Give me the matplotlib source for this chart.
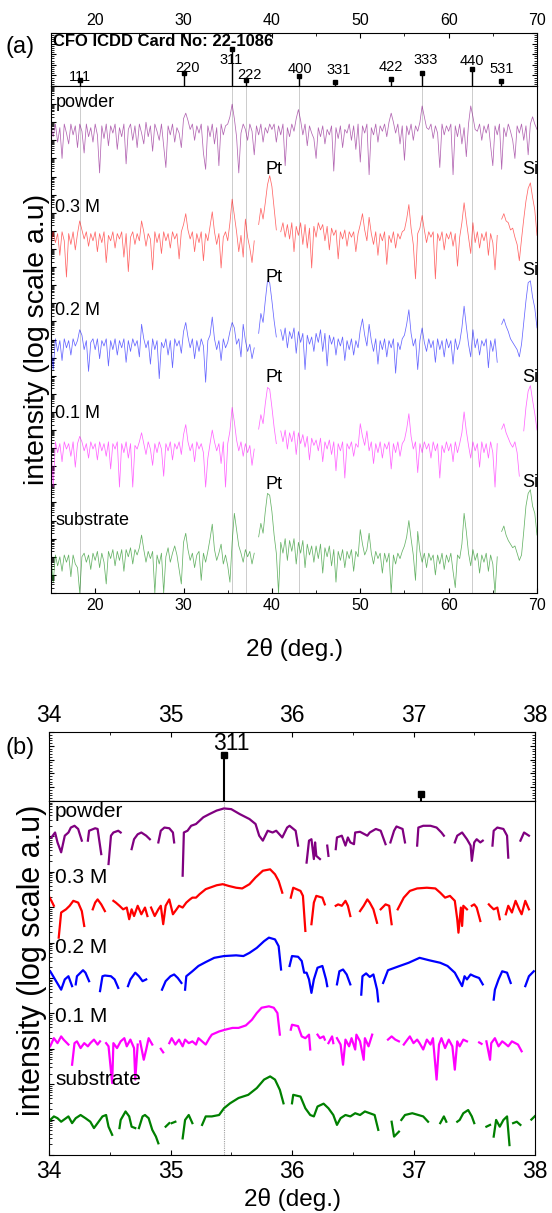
import numpy as np
import matplotlib.pyplot as plt
from matplotlib.ticker import MultipleLocator, LogLocator, NullFormatter

plt.rcParams['font.family'] = ['Liberation Sans', 'DejaVu Sans']
plt.rcParams['axes.linewidth'] = 0.8

nan = np.nan

samples = ['powder', '0.3 M', '0.2 M', '0.1 M', 'substrate']
colors = ['#800080', '#ff0000', '#0000ff', '#ff00ff', '#008000']

# CFO ICDD card 22-1086
card_hkl = ['111', '220', '311', '222', '400', '331', '422', '333', '440', '531']
card_pos = [18.29, 30.08, 35.44, 37.06, 43.06, 47.11, 53.45, 56.97, 62.59, 65.97]
card_int = [16, 35, 100, 16, 27, 11, 19, 35, 46, 14]

# (a) wide scan: log10 counts every 0.25 deg, 15..70 deg
tt_a = np.arange(15.0, 70.001, 0.25)

powder_a = [
    2.8, 2.2, 2.9, 1.9, 2.7, 1.0, 2.9, 2.4, 1.8, 2.9, 2.3, 2.8, 1.6, 2.9, 2.5, 1.3, 2.9, 2.2, 2.7, 1.9,
    2.9, 2.3, 0.2, 2.8, 2.1, 2.9, 1.7, 2.8, 2.4, 2.9, 1.5, 2.7, 2.2, 2.9, 0.7, 2.6, 2.9, 2.0, 2.8, 1.6,
    2.9, 2.4, 1.8, 3.0, 2.2, 2.8, 1.4, 2.9, 2.5, 2.0, 2.9, 1.7, 0.5, 2.8, 2.3, 2.9, 1.9, 2.7, 2.4, 1.6,
    3.2, 3.5, 3.1, 2.6, 2.9, 2.0, 2.8, 2.4, 2.9, 1.3, 0.4, 2.8, 2.2, 2.9, 1.8, 2.7, 0.6, 2.9, 2.3, 2.8,
    2.9, 3.3, 4.0, 3.2, 2.2, 0.2, 2.4, 2.9, 2.6, 2.0, 2.9, 2.5, 1.2, 2.8, 2.3, 2.9, 1.9, 2.7, 2.4, 2.9,
    2.6, 2.9, 1.9, 2.8, 2.3, 2.9, 0.6, 2.7, 2.2, 2.9, 2.5, 3.2, 3.7, 3.1, 2.3, 2.9, 1.7, 2.8, 2.4, 2.1,
    1.0, 2.7, 2.2, 2.8, 1.8, 2.6, 2.3, 2.8, 0.3, 2.7, 2.1, 2.8, 1.6, 2.6, 2.4, 2.9, 2.0, 2.8, 1.5, 2.9,
    0.8, 2.8, 2.4, 2.9, 0.1, 2.7, 2.3, 2.9, 1.9, 2.8, 2.5, 2.9, 2.2, 3.0, 3.5, 3.0, 2.4, 2.9, 1.8, 2.8,
    0.9, 2.8, 2.3, 2.9, 2.0, 2.8, 2.5, 3.0, 3.9, 3.3, 2.7, 2.6, 2.9, 2.1, 2.8, 2.4, 0.5, 2.9, 2.3, 2.8,
    2.5, 2.9, 0.1, 2.8, 2.2, 2.9, 1.8, 2.7, 1.1, 2.9, 3.9, 3.3, 2.6, 2.5, 2.9, 2.0, 2.8, 2.4, 2.9, 1.7,
    0.6, 2.8, 2.3, 2.9, 0.4, 2.7, 2.2, 2.9, 2.5, 2.0, 1.0, 2.8, 2.4, 2.9, 2.0, 2.8, 1.2, 2.9, 3.3, 2.9,
    2.6]

m03_a = [
    2.1, 2.9, 2.3, 2.8, 1.6, 2.9, 2.4, 0.4, 2.8, 2.2, 2.9, 1.9, 2.8, 3.5, 3.0, 2.5, 2.9, 2.1, 2.8, 2.4,
    2.9, 1.8, 2.8, 2.3, 2.9, 1.2, 2.7, 2.4, 2.9, 2.0, 2.8, 2.5, 2.9, 1.5, 2.8, 0.7, 2.6, 2.9, 2.2, 2.8,
    2.4, 3.5, 2.9, 2.1, 2.8, 2.5, 0.8, 2.9, 2.3, 2.8, 1.7, 2.9, 2.4, 2.8, 2.0, 2.9, 2.5, 2.8, 1.4, 2.9,
    3.3, 3.9, 3.0, 2.5, 2.9, 1.8, 2.8, 2.3, 2.9, 1.3, 2.8, 2.4, 3.2, 4.0, 2.9, 2.2, 2.8, 0.9, 2.6, 2.9,
    2.4, 3.4, 4.7, 3.8, 2.9, 1.8, 2.7, 1.5, 3.6, 2.6, 2.0, 1.2, 2.4, nan, 3.3, 4.2, 3.6, 4.5, 5.5, 6.0,
    5.4, 4.2, 3.0, nan, 2.9, 3.4, 2.6, 3.3, 2.5, 3.4, 1.8, 3.2, 2.7, 3.4, 2.2, 3.3, 2.0, 3.1, 0.9, 3.2,
    2.6, 3.4, 3.0, 3.3, 2.4, 3.2, 1.9, 3.1, 2.7, 3.0, 1.4, 2.9, 2.5, 3.0, 2.1, 2.9, 2.6, 2.9, 1.8, 2.8,
    3.3, 3.9, 3.0, 2.4, 3.7, 2.8, 2.2, 2.9, 1.6, 2.8, 2.4, 2.9, 1.1, 2.7, 2.3, 2.9, 2.0, 2.8, 2.5, 2.9,
    3.0, 3.6, 4.4, 3.1, 2.2, 0.3, 2.8, 3.1, 3.8, 3.0, 2.3, 2.9, 2.6, 2.9, 0.3, 2.8, 2.4, 2.9, 1.9, 2.8,
    2.5, 2.9, 2.1, 2.8, 1.0, 2.6, 3.4, 4.5, 3.5, 2.6, 1.7, 3.4, 2.3, 2.9, 2.0, 2.8, 2.4, 2.9, 1.6, 2.8,
    2.3, 0.8, 2.7, nan, 3.6, 3.9, 3.5, 3.4, 3.0, 3.1, 2.6, 2.2, 1.3, 2.5, 3.6, 4.6, 5.3, 5.6, 4.8, 4.1,
    2.7]

m02_a = [
    2.6, 1.2, 2.9, 2.2, 2.8, 1.7, 2.9, 2.4, 2.8, 2.0, 2.9, 2.5, 2.8, 3.4, 3.1, 2.3, 2.8, 1.1, 2.7, 2.9,
    2.3, 2.9, 1.8, 2.8, 2.5, 2.9, 1.4, 2.8, 2.3, 2.9, 2.0, 2.8, 2.4, 2.9, 1.6, 2.8, 2.2, 2.9, 2.5, 2.8,
    1.9, 3.7, 2.9, 2.4, 2.8, 1.5, 2.9, 2.3, 2.8, 0.7, 2.7, 2.4, 2.9, 2.0, 2.8, 1.3, 2.9, 2.5, 2.8, 2.1,
    3.3, 3.8, 3.0, 2.4, 2.9, 1.8, 2.8, 2.2, 2.9, 2.5, 0.5, 2.8, 3.1, 4.1, 2.9, 2.3, 2.8, 1.7, 2.9, 2.4,
    2.7, 3.3, 3.8, 3.5, 2.6, 2.9, 1.9, 3.7, 2.8, 2.2, 2.6, 1.8, 2.4, nan, 3.2, 4.3, 3.8, 5.0, 6.1, 6.0,
    5.0, 3.9, 3.0, nan, 3.4, 2.8, 3.5, 2.4, 3.3, 2.9, 3.5, 2.1, 3.3, 2.7, 3.2, 1.2, 3.1, 2.6, 3.0, 2.2,
    3.2, 2.7, 3.4, 2.2, 3.2, 1.4, 3.1, 2.6, 3.0, 2.0, 2.9, 2.5, 3.0, 1.7, 2.8, 2.3, 2.9, 2.0, 2.8, 2.4,
    3.4, 4.0, 3.1, 2.5, 3.7, 2.8, 2.2, 2.9, 1.5, 2.8, 2.3, 2.9, 1.9, 2.8, 2.4, 2.9, 1.0, 2.7, 2.3, 2.9,
    3.1, 3.7, 4.5, 3.2, 2.5, 2.9, 1.2, 2.8, 3.5, 2.7, 2.2, 2.9, 2.4, 2.8, 1.6, 2.9, 2.3, 2.8, 1.9, 2.9,
    2.4, 2.8, 1.5, 2.9, 2.3, 2.7, 3.5, 4.7, 3.6, 2.6, 1.9, 3.4, 2.4, 2.9, 2.0, 2.8, 2.5, 2.9, 1.3, 2.8,
    2.2, 2.9, 1.6, nan, 3.7, 4.0, 3.6, 3.3, 2.9, 2.7, 2.5, 2.3, 1.9, 2.6, 3.8, 5.0, 6.0, 6.1, 5.2, 4.6,
    3.5]

m01_a = [
    2.7, 0.4, 2.9, 2.3, 2.8, 1.8, 2.9, 2.5, 2.8, 2.1, 2.9, 1.5, 2.8, 3.2, 2.9, 2.4, 2.8, 2.0, 2.9, 2.5,
    2.8, 1.9, 2.9, 2.4, 2.8, 2.1, 2.9, 1.4, 2.8, 2.5, 2.9, 0.4, 2.8, 2.3, 2.9, 2.0, 2.8, 0.4, 2.7, 2.5,
    2.9, 3.4, 2.8, 2.2, 2.9, 2.5, 1.6, 2.8, 2.3, 2.9, 2.5, 1.0, 2.8, 2.4, 2.9, 1.9, 2.8, 2.5, 2.9, 2.2,
    3.3, 3.85, 2.9, 2.4, 2.8, 1.8, 2.9, 2.5, 2.8, 2.3, 0.4, 2.0, 2.8, 3.55, 2.9, 2.4, 2.8, 1.7, 2.9, 0.4,
    2.8, 3.5, 4.8, 4.0, 3.0, 2.4, 2.9, 2.1, 2.8, 2.3, 2.7, 1.6, 2.5, nan, 3.6, 4.4, 3.9, 5.0, 5.9, 5.8,
    4.8, 3.7, 2.8, nan, 3.5, 2.9, 3.55, 2.5, 3.4, 2.9, 3.5, 2.2, 3.4, 2.8, 3.3, 2.6, 3.2, 1.9, 3.1, 2.7,
    3.0, 2.4, 3.1, 1.8, 2.9, 2.5, 3.0, 2.2, 2.9, 1.3, 2.8, 2.4, 2.9, 0.9, 2.8, 2.5, 2.9, 2.1, 2.8, 2.6,
    3.9, 3.2, 2.7, 3.5, 2.4, 2.9, 1.7, 2.8, 2.3, 2.9, 2.0, 2.8, 2.5, 2.9, 1.4, 2.8, 2.3, 2.9, 2.1, 2.8,
    3.0, 3.6, 4.45, 3.2, 2.5, 2.9, 1.2, 2.8, 2.3, 2.9, 2.5, 2.8, 2.0, 2.9, 2.4, 2.8, 0.9, 2.7, 2.3, 2.9,
    2.4, 2.8, 1.8, 2.9, 2.3, 2.8, 3.4, 4.55, 3.5, 2.7, 2.0, 2.9, 2.4, 2.8, 1.5, 2.9, 2.3, 2.8, 2.0, 2.9,
    2.3, 0.4, 2.8, nan, 3.6, 3.9, 3.4, 3.1, 2.8, 2.6, 2.9, 2.3, 1.0, nan, 3.5, 4.8, 5.7, 6.0, 5.2, 4.45,
    3.55]

substrate_a = [
    2.8, 1.4, 2.9, 2.3, 2.8, 2.0, 2.9, 2.5, 2.9, 1.7, 2.9, 2.4, 2.2, 0.8, 2.8, 3.0, 2.5, 2.9, 2.1, 3.0,
    2.6, 3.1, 2.2, 3.0, 2.5, 1.3, 3.1, 2.7, 3.2, 2.3, 3.1, 2.6, 3.2, 2.0, 3.2, 2.8, 3.3, 2.4, 3.2, 2.9,
    3.3, 4.0, 3.2, 2.5, 3.1, 2.7, 3.1, 0.8, 2.9, 2.4, 3.0, 0.8, 2.8, 3.3, 2.5, 3.0, 3.4, 2.9, 2.1, 1.3,
    3.6, 4.1, 3.2, 2.6, 3.0, 2.2, 2.9, 3.1, 1.5, 3.0, 2.5, 3.1, 3.8, 4.6, 3.2, 2.6, 3.0, 3.5, 2.4, 2.9,
    2.3, 1.4, 3.6, 5.2, 4.3, 3.4, 3.0, 2.5, 3.2, 2.8, 3.1, 2.4, 3.0, nan, 3.9, 4.65, 4.1, 5.3, 6.3, 6.2,
    5.3, 4.0, 3.0, 0.8, 3.6, 3.0, 3.8, 2.6, 3.7, 3.1, 3.8, 2.4, 3.6, 3.0, 3.7, 2.2, 3.5, 2.9, 3.4, 2.5,
    3.4, 2.7, 3.5, 1.9, 3.3, 2.8, 3.4, 2.3, 3.2, 1.4, 3.1, 2.6, 3.2, 2.2, 3.1, 2.7, 3.2, 2.0, 3.1, 2.8,
    4.3, 3.5, 2.9, 3.2, 4.1, 3.0, 2.4, 3.1, 2.7, 3.0, 1.9, 3.0, 2.5, 3.0, 0.8, 2.9, 2.4, 3.0, 2.7, 3.1,
    3.4, 3.9, 4.8, 3.8, 2.9, 1.5, 4.2, 3.1, 2.5, 3.0, 2.2, 3.0, 2.6, 2.9, 1.8, 2.9, 2.4, 3.0, 2.1, 2.9,
    2.5, 3.0, 2.0, 1.1, 2.9, 2.7, 3.5, 5.2, 4.2, 3.0, 2.3, 3.2, 2.6, 3.0, 1.9, 2.9, 2.5, 3.0, 2.0, 2.9,
    2.4, 0.8, 2.8, nan, 4.2, 4.5, 4.0, 3.7, 3.5, 3.3, 3.4, 3.0, 2.6, 2.9, 4.2, 5.6, 6.3, 6.5, 5.6, 5.2,
    4.0]

# (b) fine scan 34..38 deg: log10 counts, read off as separate segments (gaps = no data)
powder_b_tt = [
    [34.02, 34.05, 34.07, 34.10, 34.13, 34.16, 34.18, 34.21, 34.24, 34.27],
    [34.32, 34.33, 34.38, 34.40, 34.43],
    [34.49, 34.51, 34.53, 34.57, 34.59],
    [34.68, 34.70, 34.73, 34.76, 34.80, 34.83],
    [34.90, 34.92, 34.95, 34.99, 35.02, 35.03],
    [35.10, 35.11, 35.14, 35.17, 35.21, 35.27, 35.32, 35.38, 35.44, 35.50, 35.57, 35.65, 35.70,
     35.73, 35.76, 35.80, 35.84, 35.87, 35.92, 35.96, 35.98, 36.03, 36.05],
    [36.12, 36.14, 36.16, 36.18, 36.19, 36.20, 36.23],
    [36.29, 36.30],
    [36.36, 36.37, 36.41, 36.44, 36.46, 36.48, 36.51, 36.52, 36.56, 36.62, 36.64, 36.69, 36.73, 36.77],
    [36.81, 36.84, 36.86, 36.91, 36.93],
    [37.03, 37.04, 37.08, 37.14, 37.19, 37.23, 37.25],
    [37.34, 37.36, 37.40, 37.44, 37.47, 37.48, 37.50, 37.52, 37.55, 37.57],
    [37.65, 37.66, 37.69, 37.74, 37.77, 37.78],
    [37.88, 37.91, 37.95]]
powder_b_lg = [
    [1.97, 2.11, 1.83, 1.55, 2.02, 2.11, 2.25, 2.30, 2.21, 1.88],
    [1.88, 2.16, 2.23, 2.21, 1.50],
    [1.22, 2.02, 2.11, 2.16, 2.11],
    [1.64, 1.92, 2.06, 2.11, 2.02, 1.92],
    [1.83, 2.16, 2.25, 2.23, 2.11, 1.83],
    [0.89, 2.11, 2.16, 2.30, 2.35, 2.54, 2.63, 2.73, 2.79, 2.77, 2.63, 2.49, 2.35,
     2.02, 1.88, 2.16, 2.11, 2.16, 1.97, 2.25, 2.30, 2.16, 1.74],
    [1.26, 1.88, 1.92, 1.36, 1.83, 1.45, 1.36],
    [1.74, 1.45],
    [1.64, 1.97, 2.02, 1.74, 1.97, 1.83, 1.78, 2.11, 2.13, 2.02, 2.11, 2.21, 2.16, 1.78],
    [1.83, 2.16, 2.28, 2.21, 1.83],
    [1.74, 2.25, 2.30, 2.30, 2.25, 2.11, 2.02],
    [1.83, 2.02, 2.11, 1.92, 1.74, 1.31, 1.83, 1.92, 1.83, 1.88],
    [1.74, 2.16, 2.25, 2.21, 2.02, 1.40],
    [1.88, 2.11, 2.02]]

m03_b_tt = [
    [34.00, 34.02, 34.04],
    [34.08, 34.10, 34.14, 34.17, 34.20, 34.24, 34.27, 34.29],
    [34.36, 34.38, 34.40, 34.43, 34.46],
    [34.53, 34.55, 34.58, 34.61, 34.64, 34.66, 34.68, 34.70, 34.73, 34.76, 34.79, 34.81],
    [34.84, 34.87, 34.90, 34.92, 34.94, 34.96, 34.99, 35.02, 35.05, 35.07, 35.10, 35.13, 35.16,
     35.18, 35.21, 35.24, 35.29, 35.38, 35.43, 35.48, 35.54, 35.59, 35.65, 35.70, 35.76, 35.82,
     35.86, 35.89, 35.92],
    [35.99, 36.01, 36.07, 36.09, 36.11],
    [36.16, 36.18, 36.20, 36.25, 36.27],
    [36.36, 36.38, 36.41, 36.44, 36.46, 36.48],
    [36.56, 36.59, 36.62, 36.64, 36.67, 36.70],
    [36.73, 36.77, 36.80, 36.82],
    [36.87, 36.92, 36.97, 37.03, 37.11, 37.18, 37.22, 37.26, 37.30, 37.34, 37.36, 37.37, 37.39,
     37.40, 37.41, 37.44],
    [37.48, 37.50, 37.52, 37.55],
    [37.62, 37.63, 37.66, 37.69, 37.71],
    [37.76, 37.78, 37.81, 37.84, 37.87, 37.89, 37.92, 37.95]]
m03_b_lg = [
    [2.30, 2.18, 2.04],
    [1.14, 1.85, 1.94, 2.04, 2.18, 2.13, 1.89, 1.47],
    [1.94, 2.13, 2.22, 2.08, 1.89],
    [2.18, 2.13, 2.04, 1.94, 1.99, 1.66, 1.94, 1.75, 2.04, 1.80, 1.99, 1.75],
    [1.99, 1.75, 1.94, 2.04, 1.52, 2.04, 2.22, 1.80, 1.94, 2.04, 1.99, 2.13, 2.22,
     2.27, 2.27, 2.37, 2.51, 2.62, 2.65, 2.60, 2.55, 2.53, 2.65, 2.84, 3.03, 3.07,
     2.93, 2.74, 2.41],
    [2.27, 2.55, 2.46, 2.32, 1.33],
    [1.52, 2.13, 2.32, 2.27, 2.08],
    [2.04, 2.08, 2.04, 2.18, 2.04, 1.75],
    [1.89, 2.04, 2.22, 2.13, 1.94, 1.56],
    [1.94, 2.08, 2.04, 1.52],
    [1.94, 2.27, 2.46, 2.53, 2.55, 2.53, 2.41, 2.27, 2.32, 2.18, 1.66, 1.28, 1.99,
     1.47, 2.04, 1.94],
    [2.04, 2.08, 1.99, 1.61],
    [2.08, 2.04, 1.94, 1.99, 1.66],
    [1.80, 2.04, 1.85, 2.18, 1.94, 1.80, 2.18, 1.94]]

m02_b_tt = [
    [34.01, 34.10, 34.13, 34.16, 34.19],
    [34.22, 34.23, 34.28, 34.30, 34.33],
    [34.42, 34.44, 34.46, 34.51, 34.54, 34.57],
    [34.65, 34.67, 34.71, 34.74, 34.77, 34.80],
    [34.93, 34.96, 35.00, 35.03, 35.06, 35.09],
    [35.12, 35.13, 35.18, 35.23, 35.29, 35.36, 35.44, 35.54, 35.60, 35.65, 35.71, 35.77, 35.81,
     35.86, 35.89, 35.91],
    [35.98, 36.00, 36.05, 36.08, 36.10, 36.12, 36.14, 36.16, 36.18, 36.21, 36.25, 36.28, 36.29],
    [36.37, 36.39, 36.42, 36.45, 36.48],
    [36.57, 36.58, 36.61, 36.64, 36.67, 36.70, 36.71],
    [36.75, 36.79, 36.87, 36.96, 37.05, 37.13, 37.22, 37.28, 37.34, 37.37, 37.40, 37.42, 37.44,
     37.47, 37.50, 37.54, 37.57],
    [37.66, 37.67, 37.70, 37.73, 37.77, 37.80],
    [37.92, 37.95, 37.99]]
m02_b_lg = [
    [2.19, 1.67, 1.96, 2.05, 1.77],
    [1.82, 2.05, 2.22, 2.15, 1.91],
    [1.63, 2.05, 2.07, 2.05, 1.96, 1.72],
    [1.77, 1.96, 2.15, 2.05, 1.91, 1.96],
    [1.67, 1.91, 2.05, 2.10, 2.00, 1.86],
    [1.67, 2.05, 2.19, 2.34, 2.45, 2.57, 2.62, 2.64, 2.62, 2.71, 2.85, 3.04, 3.14,
     3.09, 2.90, 2.24],
    [2.34, 2.62, 2.60, 2.48, 2.15, 2.15, 1.96, 1.58, 1.96, 2.29, 2.34, 1.96, 1.77],
    [1.82, 2.19, 2.24, 2.10, 1.82],
    [1.53, 2.05, 2.13, 2.03, 2.10, 1.67, 1.34],
    [1.86, 2.22, 2.32, 2.43, 2.57, 2.50, 2.43, 2.34, 2.15, 1.96, 1.77, 2.05, 1.96,
     2.10, 2.05, 2.00, 1.82],
    [1.39, 1.67, 1.96, 2.19, 2.15, 1.86],
    [1.77, 2.05, 2.19]]

m01_b_tt = [
    [34.01, 34.04, 34.07, 34.10, 34.12, 34.16],
    [34.19, 34.21, 34.23, 34.26, 34.29, 34.32, 34.34, 34.37, 34.40, 34.42],
    [34.47, 34.49, 34.52, 34.53, 34.56, 34.59, 34.62, 34.64, 34.67, 34.70, 34.71, 34.73],
    [34.75, 34.78, 34.80, 34.82, 34.85],
    [34.92, 34.94],
    [34.99, 35.01, 35.04, 35.07, 35.10, 35.12, 35.15, 35.18, 35.21, 35.23, 35.26, 35.29, 35.32,
     35.34, 35.40, 35.45, 35.51, 35.56, 35.62, 35.67, 35.71, 35.75, 35.81, 35.85, 35.88, 35.90],
    [35.99, 36.00, 36.05, 36.08, 36.11, 36.14, 36.15],
    [36.21, 36.23, 36.26, 36.27],
    [36.30, 36.33, 36.34],
    [36.37, 36.40, 36.42, 36.44, 36.47, 36.49, 36.52, 36.53, 36.56, 36.59, 36.60, 36.63, 36.66],
    [36.79, 36.82, 36.85, 36.88],
    [36.92, 36.95, 36.97, 37.00, 37.03, 37.05, 37.08, 37.11, 37.14, 37.16, 37.19, 37.21, 37.23,
     37.26, 37.29, 37.32, 37.34, 37.36, 37.38, 37.41, 37.44],
    [37.54, 37.56],
    [37.60, 37.63, 37.64, 37.67, 37.70, 37.73, 37.75, 37.78, 37.81, 37.86, 37.89]]
m01_b_lg = [
    [2.07, 2.30, 2.16, 2.35, 2.26, 2.12],
    [1.55, 2.16, 2.21, 2.02, 2.16, 2.07, 2.16, 2.26, 2.12, 2.21],
    [2.16, 2.07, 1.03, 2.16, 2.02, 2.21, 2.30, 2.07, 2.26, 2.02, 1.13, 2.12],
    [2.21, 1.69, 1.98, 2.30, 2.12],
    [2.00, 1.90],
    [2.16, 2.30, 2.12, 2.26, 2.07, 2.26, 2.16, 2.21, 2.12, 2.30, 2.21, 2.12, 2.30,
     2.40, 2.49, 2.54, 2.59, 2.59, 2.66, 2.82, 3.01, 3.16, 3.20, 3.16, 3.01, 2.40],
    [2.54, 2.68, 2.64, 2.35, 2.30, 2.40, 1.98],
    [2.40, 2.30, 2.35, 2.26],
    [2.16, 2.35, 2.16],
    [2.30, 2.12, 1.55, 2.26, 2.07, 2.30, 1.98, 2.40, 2.21, 1.69, 2.30, 2.07, 2.40],
    [2.26, 2.35, 2.26, 2.21],
    [2.12, 2.26, 2.35, 2.16, 2.26, 2.16, 1.98, 2.26, 2.12, 2.30, 1.13, 2.12, 2.30,
     2.02, 2.26, 2.07, 1.41, 2.21, 2.07, 2.26, 2.21],
    [2.18, 2.14],
    [2.21, 1.69, 2.16, 2.30, 2.07, 2.21, 2.16, 2.07, 2.21, 2.12, 1.93]]

substrate_b_tt = [
    [34.01, 34.04, 34.07, 34.10, 34.12, 34.16, 34.19, 34.22, 34.26, 34.30, 34.34, 34.37, 34.40,
     34.44, 34.47, 34.49, 34.52],
    [34.58, 34.59, 34.63, 34.66, 34.68, 34.71],
    [34.74, 34.77, 34.79, 34.82, 34.85, 34.88, 34.90],
    [34.96, 34.99],
    [35.01, 35.04],
    [35.10, 35.12, 35.15, 35.18],
    [35.26, 35.29, 35.34, 35.40, 35.44, 35.49, 35.56, 35.64, 35.71, 35.77, 35.82, 35.86, 35.90, 35.93],
    [36.00, 36.01, 36.07, 36.11, 36.15, 36.18, 36.21, 36.26, 36.30, 36.34, 36.37, 36.40, 36.44,
     36.48, 36.52, 36.56, 36.60, 36.64, 36.68, 36.71],
    [36.82, 36.84, 36.88],
    [36.90, 36.93, 36.99, 37.04, 37.08, 37.12],
    [37.22, 37.25, 37.27],
    [37.36, 37.38, 37.41, 37.45, 37.48, 37.50],
    [37.60, 37.63],
    [37.66, 37.68, 37.71, 37.74, 37.77, 37.79],
    [37.82, 37.85, 37.88],
    [37.97, 38.00]]
substrate_b_lg = [
    [1.99, 2.09, 2.04, 1.94, 1.99, 2.09, 1.90, 2.04, 2.13, 2.04, 1.94, 1.76, 1.90,
     2.09, 2.13, 1.80, 1.57],
    [1.76, 1.99, 2.23, 2.09, 1.80, 1.76],
    [1.76, 2.09, 2.13, 2.04, 1.71, 1.52, 1.33],
    [1.80, 1.90],
    [1.90, 1.94],
    [1.47, 1.99, 2.13, 1.90],
    [1.85, 2.09, 2.09, 2.13, 2.32, 2.46, 2.61, 2.70, 2.89, 3.13, 3.22, 3.13, 2.84, 2.46],
    [2.46, 2.70, 2.65, 2.32, 2.13, 2.09, 2.37, 2.45, 2.32, 2.13, 1.85, 2.04, 2.13,
     2.09, 2.18, 2.13, 2.23, 2.18, 2.13, 1.71],
    [1.94, 1.52, 1.66],
    [1.99, 2.13, 2.18, 2.13, 2.09, 1.94],
    [1.90, 2.09, 1.94],
    [1.94, 1.99, 2.18, 2.27, 2.09, 1.90],
    [1.80, 1.85],
    [1.52, 1.99, 1.80, 1.99, 2.09, 1.28],
    [1.90, 1.94, 1.85],
    [2.00, 2.10]]

traces_a = [powder_a, m03_a, m02_a, m01_a, substrate_a]
traces_b = [(powder_b_tt, powder_b_lg), (m03_b_tt, m03_b_lg), (m02_b_tt, m02_b_lg),
            (m01_b_tt, m01_b_lg), (substrate_b_tt, substrate_b_lg)]

# vertical stacking (decades) of the curves
shift_a = [23.0, 17.05, 11.14, 5.45, -0.8]
shift_b = [7.0, 5.0, 3.0, 1.0, -1.0]

W, H = 552, 1213
fig = plt.figure(figsize=(W / 100, H / 100), dpi=100)


def box(x0, y0, x1, y1):
    return [x0 / W, 1 - y1 / H, (x1 - x0) / W, (y1 - y0) / H]


ax_ca = fig.add_axes(box(51, 33, 537, 86))
ax_a = fig.add_axes(box(51, 86, 537, 593))
ax_cb = fig.add_axes(box(49, 732, 535, 801))
ax_b = fig.add_axes(box(49, 801, 535, 1155))


def style_card(ax, x0, x1, top, major, minor, size):
    ax.set_xlim(x0, x1)
    ax.set_ylim(0, top)
    ax.xaxis.set_major_locator(MultipleLocator(major))
    ax.xaxis.set_minor_locator(MultipleLocator(minor))
    ax.yaxis.set_major_locator(MultipleLocator(top / 5))
    ax.yaxis.set_minor_locator(MultipleLocator(top / 25))
    ax.tick_params(axis='x', which='both', direction='in', top=True, bottom=False,
                   labeltop=True, labelbottom=False, labelsize=size)
    ax.tick_params(axis='y', which='both', direction='in', left=True, right=True, labelleft=False)
    ax.tick_params(which='major', length=3.5)
    ax.tick_params(which='minor', length=2)


def style_main(ax, x0, x1, ndec, major, minor, size):
    ax.set_yscale('log')
    ax.set_xlim(x0, x1)
    ax.set_ylim(1, 10.0 ** ndec)
    ax.xaxis.set_major_locator(MultipleLocator(major))
    ax.xaxis.set_minor_locator(MultipleLocator(minor))
    ax.yaxis.set_major_locator(LogLocator(base=10, numticks=ndec + 2))
    ax.yaxis.set_minor_locator(LogLocator(base=10, subs=np.arange(2, 10), numticks=ndec + 2))
    ax.yaxis.set_major_formatter(NullFormatter())
    ax.yaxis.set_minor_formatter(NullFormatter())
    ax.tick_params(axis='x', which='both', direction='in', top=False, labelsize=size)
    ax.tick_params(axis='y', which='both', direction='in', right=False)
    ax.tick_params(which='major', length=3.5)
    ax.tick_params(which='minor', length=2)


# ---- (a) card
ax_ca.vlines(card_pos, 0, card_int, color='k', lw=1.0)
ax_ca.plot(card_pos, card_int, 's', color='k', ms=2.5)
hkl_x = [18.3, 30.5, 35.4, 37.5, 43.2, 47.6, 53.5, 57.4, 62.6, 66.0]
hkl_y = [24, 48, 70, 30, 45, 43, 51, 70, 67, 45]
for lab, x, y in zip(card_hkl, hkl_x, hkl_y):
    ax_ca.text(x, y, lab, ha='center', va='center', fontsize=10.5)
ax_ca.text(15.2, 121, 'CFO ICDD Card No: 22-1086', fontsize=12, fontweight='bold', va='center')
style_card(ax_ca, 15, 70, 143, 10, 5, 11.5)

# ---- (a) patterns
guide = ['111', '311', '222', '400', '333', '440']
for lab, x in zip(card_hkl, card_pos):
    if lab in guide:
        ax_a.axvline(x, color='#cccccc', lw=0.7, zorder=0)
for vals, sh, c in zip(traces_a, shift_a, colors):
    ax_a.plot(tt_a, 10.0 ** (np.array(vals) + sh), color=c, lw=0.55, alpha=0.6)
for name, y in zip(samples, [27.1, 21.3, 15.6, 9.9, 4.0]):
    ax_a.text(15.5, 10.0 ** y, name, fontsize=13, va='center')
for y_pt, y_si in zip([23.4, 17.4, 11.9, 5.97], [23.4, 17.8, 11.9, 6.1]):
    ax_a.text(40.2, 10.0 ** y_pt, 'Pt', fontsize=13, ha='center', va='center')
    ax_a.text(69.2, 10.0 ** y_si, 'Si', fontsize=13, ha='center', va='center')
style_main(ax_a, 15, 70, 28, 10, 5, 11.5)
ax_a.set_xlabel('2θ (deg.)', fontsize=17.5)
ax_a.xaxis.set_label_coords(0.5, -0.112)
ax_a.xaxis.label.set_va('center')
ax_a.set_ylabel('intensity (log scale a.u)', fontsize=20.5)
ax_a.yaxis.set_label_coords(-0.029, 0.5)
ax_a.yaxis.label.set_va('center')

# ---- (b) card
in_b = [(x, v) for x, v in zip(card_pos, card_int) if 34 <= x <= 38]
ax_cb.vlines([p[0] for p in in_b], 0, [p[1] for p in in_b], color='k', lw=1.5)
ax_cb.plot([p[0] for p in in_b], [p[1] for p in in_b], 's', color='k', ms=5)
ax_cb.text(35.5, 126, '311', fontsize=16.5, ha='center', va='center')
style_card(ax_cb, 34, 38, 150, 1, 0.5, 16.5)

# ---- (b) patterns
ax_b.axvline(35.44, color='#a0a0a0', lw=0.8, ls=(0, (1, 1)), zorder=0)
for (segs_x, segs_y), sh, c in zip(traces_b, shift_b, colors):
    for sx, sy in zip(segs_x, segs_y):
        ax_b.plot(sx, 10.0 ** (np.array(sy) + sh), color=c, lw=1.6)
for name, y in zip(samples, [9.69, 7.85, 5.86, 3.92, 2.12]):
    ax_b.text(34.05, 10.0 ** y, name, fontsize=15, va='center')
style_main(ax_b, 34, 38, 10, 1, 0.5, 16.5)
ax_b.set_xlabel('2θ (deg.)', fontsize=17.5)
ax_b.xaxis.set_label_coords(0.5, -0.127)
ax_b.xaxis.label.set_va('center')
ax_b.set_ylabel('intensity (log scale a.u)', fontsize=22)
ax_b.yaxis.set_label_coords(-0.035, 0.55)
ax_b.yaxis.label.set_va('center')

fig.text(20 / W, 1 - 47 / H, '(a)', fontsize=17, ha='center', va='center')
fig.text(20 / W, 1 - 748 / H, '(b)', fontsize=17, ha='center', va='center')

fig.savefig('out.png', dpi=100)
